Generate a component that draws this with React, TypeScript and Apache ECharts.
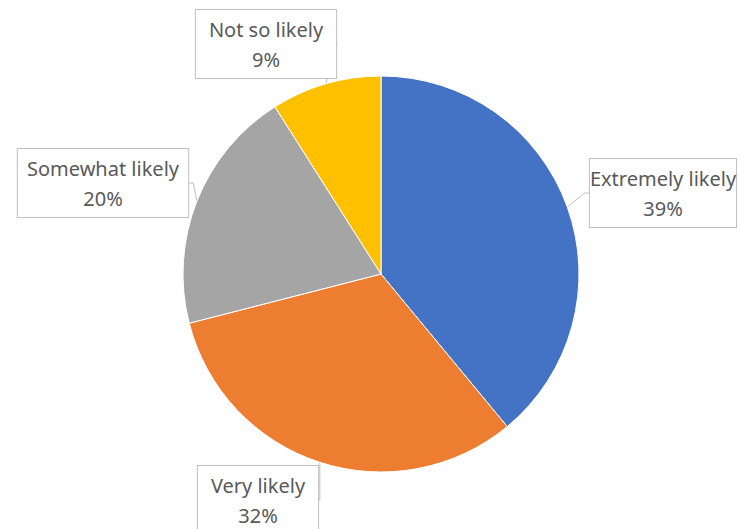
import React, { useEffect, useRef } from "react";
import * as echarts from "echarts";

const categories = ["Extremely likely", "Very likely", "Somewhat likely", "Not so likely"];
const values = [39, 32, 20, 9];
const colors = ["#4472C4", "#ED7D31", "#A5A5A5", "#FFC000"];

// label box centers (layout only)
const labelCenters = [
  [663, 193],
  [258, 500],
  [103, 183],
  [266, 44],
];

export default function App() {
  const ref = useRef<HTMLDivElement>(null);
  useEffect(() => {
    document.body.style.margin = "0";
    const chart = echarts.init(ref.current!, null, { renderer: "svg" });
    chart.setOption({
      animation: false,
      backgroundColor: "#ffffff",
      series: [
        {
          type: "pie",
          center: [381, 274],
          radius: 198,
          startAngle: 90,
          clockwise: true,
          data: categories.map((name, i) => ({
            name,
            value: values[i],
            itemStyle: { color: colors[i] },
          })),
          itemStyle: { borderColor: "#ffffff", borderWidth: 1 },
          label: {
            show: true,
            position: "outside",
            formatter: (p: any) => `${p.name}\n${p.value}%`,
            fontFamily: "Noto Sans",
            fontSize: 20,
            lineHeight: 30,
            color: "#595959",
            align: "center",
            overflow: "none",
            backgroundColor: "#ffffff",
            borderColor: "#bfbfbf",
            borderWidth: 1,
            padding: [4, 13, 4, 13],
          },
          labelLine: {
            show: true,
            length: 8,
            length2: 4,
            lineStyle: { color: "#bfbfbf", width: 1 },
          },
          labelLayout: (params: any) => {
            const c = labelCenters[params.dataIndex];
            return {
              x: c[0],
              y: c[1],
              align: "center",
              verticalAlign: "middle",
            };
          },
        },
      ],
    });
    return () => chart.dispose();
  }, []);
  return (
    <div
      ref={ref}
      style={{ width: 740, height: 529, position: "absolute", left: 0, top: 0 }}
    />
  );
}
